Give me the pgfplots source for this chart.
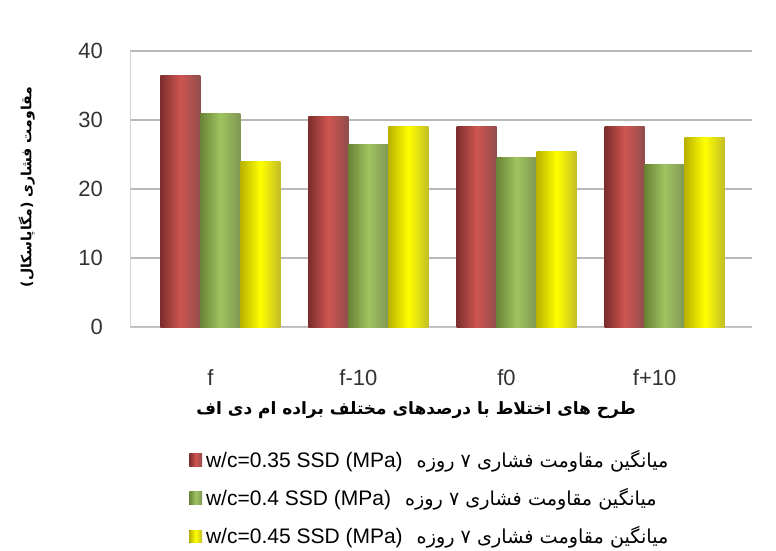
\documentclass[border=0pt]{standalone}
\usepackage{fontspec}
\setmainfont{Liberation Sans}
\newfontfamily\fa[Script=Arabic]{DejaVu Sans}
\usepackage{pgfplots}
\pgfplotsset{compat=1.18}
\TeXXeTstate=1

% Excel-like cylinder colours
\definecolor{redL}{HTML}{CF5550}
\definecolor{redD}{HTML}{7D2E2C}
\definecolor{grnL}{HTML}{9FC460}
\definecolor{grnD}{HTML}{6A8436}
\definecolor{ylwL}{HTML}{FFFF00}
\definecolor{ylwD}{HTML}{B8B200}

\pgfplotsset{
  cylR/.style={draw=none, left color=redD, right color=redD!85, middle color=redL, bar shift=-0.27},
  cylG/.style={draw=none, left color=grnD, right color=grnD!85, middle color=grnL, bar shift=0},
  cylY/.style={draw=none, left color=ylwD, right color=ylwD!85!white, middle color=ylwL, bar shift=0.27},
}

\newcommand{\legtxt}[1]{\beginR{\fa\fontsize{9.6}{11}\selectfont میانگین مقاومت فشاری ۷ روزه}\hskip 7pt\beginL w/c=#1 SSD (MPa)\endL\endR}

\begin{document}
\begin{tikzpicture}
\useasboundingbox (0,0) rectangle (388pt,275.5pt);
\begin{axis}[
  at={(65pt,112pt)}, anchor=south west,
  scale only axis, width=311pt, height=138pt,
  ymin=0, ymax=40, ytick={0,10,20,30,40},
  xmin=-0.61, xmax=3.59,
  xtick={0,1,2,3}, xticklabels={f,f-10,f0,f+10},
  ybar=0pt, bar width=0.27,
  ymajorgrids, grid style={gray!55, line width=0.6pt},
  major tick length=0pt,
  axis x line*=bottom, axis y line*=left,
  x axis line style={gray!45, -}, y axis line style={gray!35, -},
  /pgf/number format/assume math mode=true,
  tick label style={font=\fontsize{11}{13}\selectfont, text=black!80},
  yticklabel style={xshift=-10pt},
  xticklabel style={anchor=center, yshift=-25.5pt, xshift=-5pt},
  ylabel={\fa\bfseries\fontsize{7}{9}\selectfont\beginR مقاومت فشاری (مگاپاسکال)\endR},
  ylabel style={at={(axis description cs:-0.166,0.507)}, anchor=center},
  xlabel={\fa\bfseries\fontsize{8.5}{10}\selectfont\beginR طرح های اختلاط با درصدهای مختلف براده ام دی اف\endR},
  xlabel style={at={(axis description cs:0.46,-0.30)}, anchor=center},
  legend style={at={(axis description cs:0.085,-0.415)}, anchor=north west,
    draw=none, fill=none, row sep=5pt,
    font=\fontsize{10.5}{12}\selectfont},
  legend cell align=left,
  legend image code/.code={\fill[#1] (0pt,-3.2pt) rectangle (6.4pt,3.2pt);},
]
% f
\addplot[cylR] coordinates {(0,36.5)};
\addlegendentry{\legtxt{0.35}}
\addplot[cylG] coordinates {(0,31.0)};
\addlegendentry{\legtxt{0.4}}
\addplot[cylY] coordinates {(0,24.0)};
\addlegendentry{\legtxt{0.45}}
% f-10
\addplot[cylR, forget plot] coordinates {(1,30.5)};
\addplot[cylG, forget plot] coordinates {(1,26.5)};
\addplot[cylY, forget plot] coordinates {(1,29.0)};
% f0
\addplot[cylR, forget plot] coordinates {(2,29.0)};
\addplot[cylG, forget plot] coordinates {(2,24.5)};
\addplot[cylY, forget plot] coordinates {(2,25.5)};
% f+10
\addplot[cylR, forget plot] coordinates {(3,29.0)};
\addplot[cylG, forget plot] coordinates {(3,23.5)};
\addplot[cylY, forget plot] coordinates {(3,27.5)};
\end{axis}
\end{tikzpicture}
\end{document}
